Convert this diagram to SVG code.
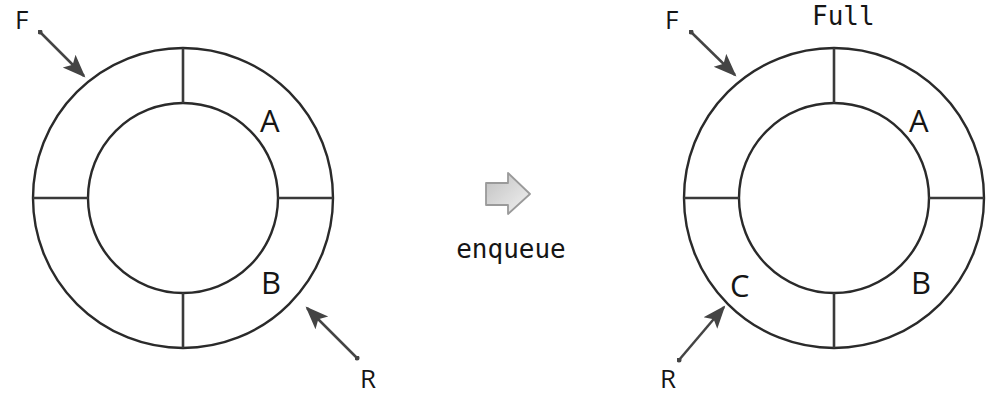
<svg xmlns="http://www.w3.org/2000/svg" width="991" height="396" viewBox="0 0 991 396">
<style>
.ring{fill:none;stroke:#2a2a2a;stroke-width:2.4}
.div{stroke:#3a3a3a;stroke-width:2.6}
.lbl{font-family:"Open Sans","Liberation Sans",sans-serif;font-size:31px;font-weight:500;fill:#151515}
.ptr{font-family:"Open Sans","Liberation Sans",sans-serif;font-size:26px;font-weight:500;fill:#151515}
.mono{font-family:"DejaVu Sans Mono","Liberation Mono",monospace;font-size:26px;fill:#151515}
.arr{stroke:#444;stroke-width:2.5;fill:none;marker-end:url(#head);marker-start:url(#dot)}
</style>
<defs>
<marker id="head" viewBox="0 0 24 20" refX="21" refY="10" markerWidth="24" markerHeight="20" markerUnits="userSpaceOnUse" orient="auto">
<path d="M0,1 L23,10 L0,19 L5,10 Z" fill="#444"/>
</marker>
<marker id="dot" viewBox="0 0 10 10" refX="5" refY="5" markerWidth="5" markerHeight="5" markerUnits="userSpaceOnUse">
<circle cx="5" cy="5" r="5" fill="#444"/>
</marker>
<linearGradient id="bg" x1="0" y1="0" x2="1" y2="1">
<stop offset="0" stop-color="#c0c0c0"/>
<stop offset="1" stop-color="#f2f2f2"/>
</linearGradient>
</defs>

<g id="queue-before">
<circle class="ring" cx="183" cy="198" r="150"/>
<circle class="ring" cx="183" cy="198" r="95"/>
<line class="div" x1="183" y1="48" x2="183" y2="103"/>
<line class="div" x1="183" y1="293" x2="183" y2="348"/>
<line class="div" x1="33" y1="198" x2="88" y2="198"/>
<line class="div" x1="278" y1="198" x2="333" y2="198"/>
<text class="lbl" x="260" y="132">A</text>
<text class="lbl" x="261" y="294">B</text>
</g>

<g id="queue-after">
<circle class="ring" cx="834" cy="198" r="150"/>
<circle class="ring" cx="834" cy="198" r="95"/>
<line class="div" x1="834" y1="48" x2="834" y2="103"/>
<line class="div" x1="834" y1="293" x2="834" y2="348"/>
<line class="div" x1="684" y1="198" x2="739" y2="198"/>
<line class="div" x1="929" y1="198" x2="984" y2="198"/>
<text class="lbl" x="909" y="132">A</text>
<text class="lbl" x="911" y="294">B</text>
<text class="lbl" x="730" y="297">C</text>
<text class="mono" x="812" y="25">Full</text>
</g>

<g id="pointers">
<text class="ptr" x="15" y="29">F</text>
<text class="ptr" x="360" y="388">R</text>
<text class="ptr" x="665" y="29">F</text>
<text class="ptr" x="660" y="388">R</text>
</g>

<g id="connectors">
<line class="arr" x1="40" y1="32" x2="84" y2="76"/>
<line class="arr" x1="357" y1="358" x2="307" y2="308"/>
<line class="arr" x1="691" y1="32" x2="735" y2="75"/>
<line class="arr" x1="679" y1="360" x2="724" y2="307"/>
</g>

<g id="enqueue">
<path d="M486,183 L508,183 L508,173 L530,194 L508,214 L508,205 L486,205 Z" fill="url(#bg)" stroke="#9a9a9a" stroke-width="1.8" stroke-linejoin="round"/>
<text class="mono" x="511" y="258" text-anchor="middle">enqueue</text>
</g>
</svg>
